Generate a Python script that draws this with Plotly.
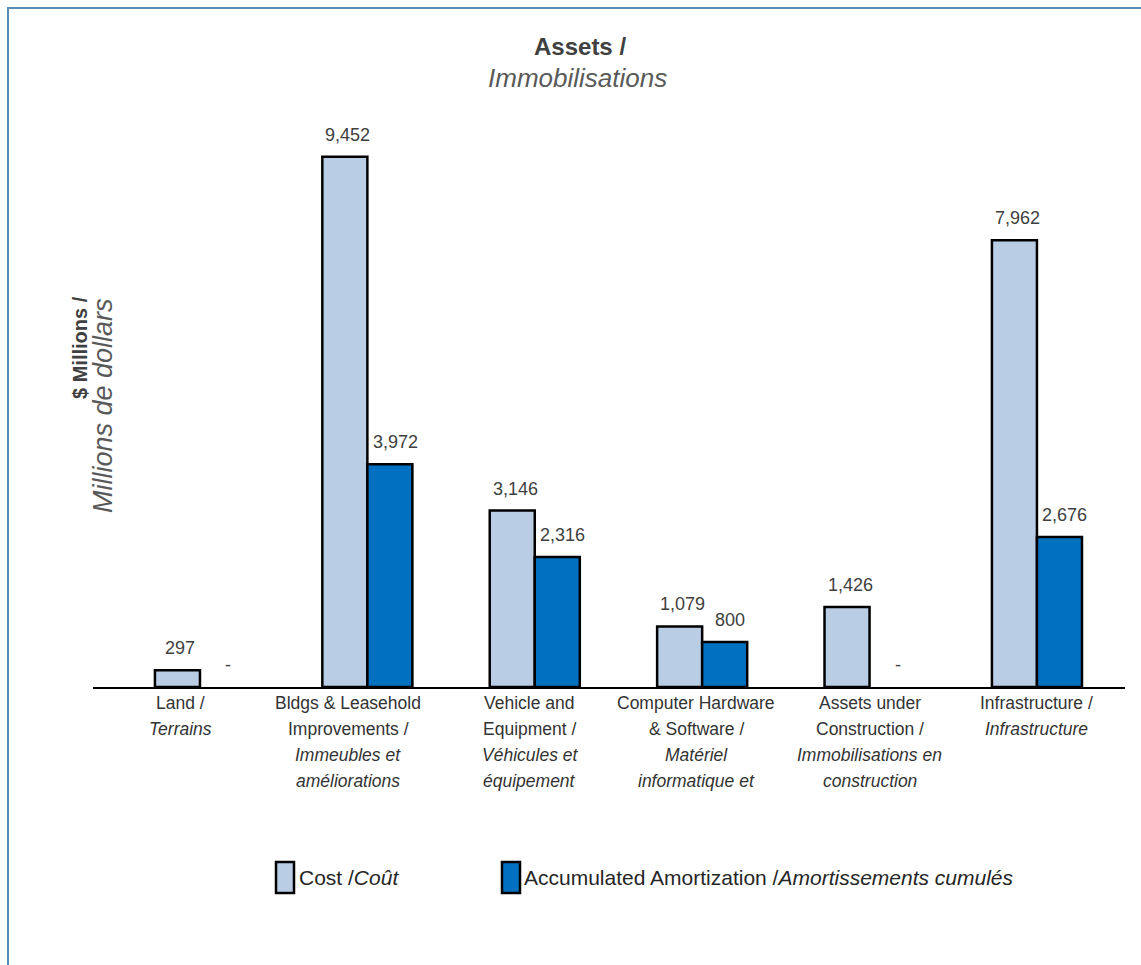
import plotly.graph_objects as go

# ---- data ----
categories = ["Land", "Bldgs", "Vehicle", "Computer", "AUC", "Infra"]
cost = [297, 9452, 3146, 1079, 1426, 7962]
amort = [0, 3972, 2316, 800, 0, 2676]
tick_lines = [
    ["Land /", "<i>Terrains</i>"],
    ["Bldgs & Leasehold", "Improvements /", "<i>Immeubles et</i>", "<i>améliorations</i>"],
    ["Vehicle and", "Equipment /", "<i>Véhicules et</i>", "<i>équipement</i>"],
    ["Computer Hardware", "& Software /", "<i>Matériel</i>", "<i>informatique et</i>"],
    ["Assets under", "Construction /", "<i>Immobilisations en</i>", "<i>construction</i>"],
    ["Infrastructure /", "<i>Infrastructure</i>"],
]
series_names = ["Cost /<i>Coût</i>", "Accumulated Amortization /<i>Amortissements cumulés</i>"]
colors = ["#b9cde5", "#0070c0"]

# ---- styling ----
label_xshift = [-19, -19, -5, -6, 0, 0]
value_xshift = [-19.5, 28]
FONT = "Liberation Sans, Arial, sans-serif"
W, H = 1141, 965
L, R, T, B = 93, 16, 126, 278
PW, PH = W - L - R, H - T - B


def px(x):
    return (x - L) / PW


def py(y):
    return (H - B - y) / PH


fig = go.Figure()
for vals, col, nm in zip([cost, amort], colors, series_names):
    fig.add_trace(go.Bar(
        x=categories, y=vals, name=nm,
        marker=dict(color=col, line=dict(color="black", width=[2.5 if v else 0 for v in vals])),
        showlegend=False, hoverinfo="skip",
    ))

ann = []
# value labels
for vals, sh in zip([cost, amort], value_xshift):
    for c, v in zip(categories, vals):
        ann.append(dict(x=c, y=v, xref="x", yref="y", xshift=sh, yshift=22,
                        text=(f"{v:,}" if v else "-"), showarrow=False,
                        font=dict(family=FONT, size=18, color="#404040"),
                        xanchor="center", yanchor="middle"))
# category labels
for c, lines, xs in zip(categories, tick_lines, label_xshift):
    for i, t in enumerate(lines):
        ann.append(dict(x=c, y=0, xref="x", yref="paper", xshift=xs, yshift=-(16 + 26 * i),
                        text=t, showarrow=False,
                        font=dict(family=FONT, size=17.5, color="#333333"),
                        xanchor="center", yanchor="middle"))
# title
ann.append(dict(x=px(580), y=py(47), xref="paper", yref="paper", text="<b>Assets /</b>",
                showarrow=False, font=dict(family=FONT, size=24, color="#404040"),
                xanchor="center", yanchor="middle"))
ann.append(dict(x=px(577), y=py(78), xref="paper", yref="paper", text="<i>Immobilisations</i>",
                showarrow=False, font=dict(family=FONT, size=26, color="#595959"),
                xanchor="center", yanchor="middle"))
# y title
ann.append(dict(x=px(80), y=py(348), xref="paper", yref="paper", text="<b>$ Millions /</b>",
                showarrow=False, textangle=-90, font=dict(family=FONT, size=20, color="#404040"),
                xanchor="center", yanchor="middle"))
ann.append(dict(x=px(103), y=py(406), xref="paper", yref="paper", text="<i>Millions de dollars</i>",
                showarrow=False, textangle=-90, font=dict(family=FONT, size=27, color="#595959"),
                xanchor="center", yanchor="middle"))

shapes = []
# custom legend
leg = [(276, 294, 297), (502, 520, 522)]
for (x0, x1, tx), col, nm in zip(leg, colors, series_names):
    shapes.append(dict(type="rect", xref="paper", yref="paper",
                       x0=px(x0), x1=px(x1), y0=py(893), y1=py(862),
                       fillcolor=col, line=dict(color="black", width=2.5)))
    ann.append(dict(x=px(tx), y=py(878), xref="paper", yref="paper", text=nm,
                    showarrow=False, font=dict(family=FONT, size=21, color="#262626"),
                    xanchor="left", yanchor="middle"))
# outer frame
shapes.append(dict(type="rect", xref="paper", yref="paper",
                   x0=px(8), x1=px(1150), y0=py(975), y1=py(8),
                   line=dict(color="#5a8cb5", width=2), fillcolor="rgba(0,0,0,0)", layer="below"))

fig.update_layout(
    width=W, height=H, margin=dict(l=L, r=R, t=T, b=B),
    paper_bgcolor="white", plot_bgcolor="white",
    barmode="group", bargap=0.462, bargroupgap=0,
    annotations=ann, shapes=shapes,
    xaxis=dict(type="category", range=[-0.639, 5.526], showticklabels=False, ticks="",
               showline=True, linecolor="black", linewidth=2, showgrid=False, zeroline=False),
    yaxis=dict(range=[0, 10000], showticklabels=False, ticks="", showline=False,
               showgrid=False, zeroline=False),
    showlegend=False,
)

fig.write_html("out.html")
